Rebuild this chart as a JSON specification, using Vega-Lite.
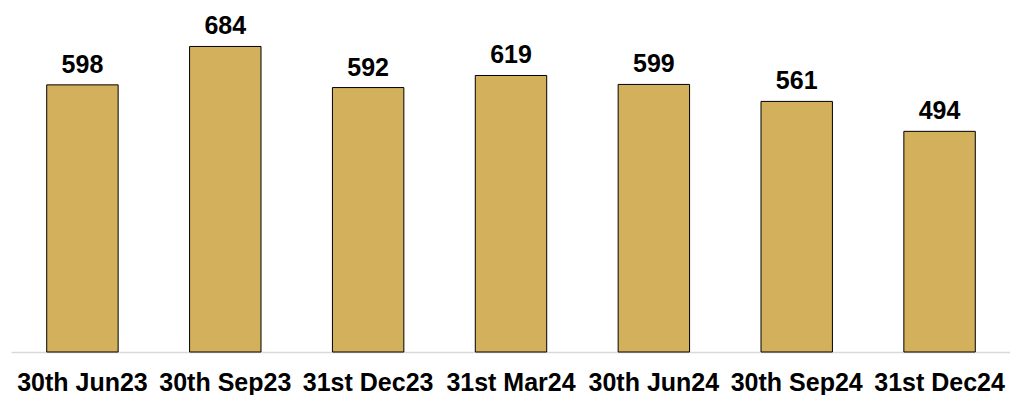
{
  "$schema": "https://vega.github.io/schema/vega-lite/v6.json",
  "width": 1000,
  "height": 352,
  "autosize": {"type": "none"},
  "padding": {"left": 11, "top": 0, "right": 0, "bottom": 43},
  "background": "white",
  "config": {"view": {"stroke": null}, "font": "Liberation Sans"},
  "data": {"values": [
    {"period": "30th Jun23", "value": 598},
    {"period": "30th Sep23", "value": 684},
    {"period": "31st Dec23", "value": 592},
    {"period": "31st Mar24", "value": 619},
    {"period": "30th Jun24", "value": 599},
    {"period": "30th Sep24", "value": 561},
    {"period": "31st Dec24", "value": 494}
  ]},
  "encoding": {
    "x": {"field": "period", "type": "nominal", "sort": null,
      "scale": {"paddingInner": 0.5, "paddingOuter": 0.25},
      "axis": {"title": null, "labelAngle": 0, "labelFontSize": 25, "labelFontWeight": "bold", "labelColor": "black", "labelPadding": 18, "ticks": false, "domainColor": "#d9d9d9", "domainWidth": 1.5, "labelFont": "Liberation Sans"}},
    "y": {"field": "value", "type": "quantitative", "scale": {"domain": [0, 788]}, "axis": null}
  },
  "layer": [
    {"mark": {"type": "bar", "color": "#D3B05B", "stroke": "black", "strokeWidth": 1}},
    {"mark": {"type": "text", "dy": -20, "fontSize": 25, "fontWeight": "bold", "color": "black", "font": "Liberation Sans"},
     "encoding": {"text": {"field": "value", "type": "quantitative"}}}
  ]
}
